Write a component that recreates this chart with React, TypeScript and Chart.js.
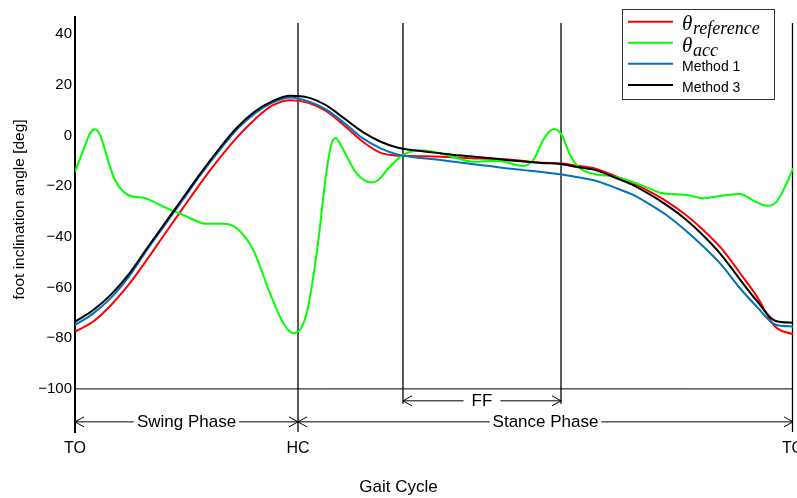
import React, { useEffect, useRef } from "react";
import { Chart, registerables } from "chart.js";

Chart.register(...registerables);

// ---------- data (percent of gait cycle, degrees) ----------
const gaitPct = [
  0, 2.5, 5, 7.5, 10, 12.5, 15, 17.5, 20, 22.5, 25, 27.5, 30, 32.5, 35, 37.5, 40,
  42.5, 45, 47.5, 50, 52.5, 55, 57.5, 60, 62.5, 65, 67.5, 70, 72.5, 75, 77.5, 80,
  82.5, 85, 87.5, 90, 92.5, 95, 97.5, 100,
];

const thetaReference = [
  -77.4, -73.5, -67.0, -58.8, -49.1, -38.9, -28.8, -18.8, -9.5, -1.0, 6.2, 11.8,
  13.9, 12.9, 9.6, 3.9, -2.3, -6.8, -8.0, -8.2, -8.3, -8.6, -9.0, -9.2, -9.4,
  -10.1, -10.8, -11.0, -12.0, -13.1, -15.8, -18.6, -22.1, -26.2, -31.2, -37.3,
  -44.5, -53.8, -63.7, -75.4, -78.5,
];

const method1 = [
  -74.8, -70.3, -64.1, -55.7, -45.3, -35.4, -25.5, -15.5, -6.3, 2.2, 8.6, 12.9,
  14.9, 13.4, 10.2, 4.9, -1.0, -5.0, -7.6, -8.7, -9.4, -10.3, -11.2, -12.0, -13.0,
  -13.7, -14.4, -15.3, -16.5, -17.9, -20.4, -23.2, -27.1, -31.7, -37.4, -43.8,
  -51.0, -59.9, -67.7, -74.6, -75.4,
];

const method3 = [
  -73.5, -69.0, -62.8, -54.7, -44.6, -34.7, -24.8, -14.9, -5.6, 2.9, 9.3, 13.5,
  15.6, 14.9, 11.8, 6.7, 1.5, -2.4, -4.9, -6.0, -6.8, -7.6, -8.2, -8.9, -9.7,
  -10.3, -10.9, -11.3, -12.5, -13.7, -16.4, -19.3, -23.2, -27.7, -33.0, -39.5,
  -47.1, -56.4, -65.4, -73.1, -73.9,
];

const accPct = [
  0, 1.16, 2.09, 2.79, 3.48, 4.18, 4.87, 5.57, 6.73, 8.12, 9.52, 10.91, 12.77,
  15.08, 18.34, 20.65, 22.52, 24.83, 27.16, 29.01, 30.4, 31.1, 32.27, 33.66, 35.06,
  35.75, 36.35, 37.14, 39.23, 41.32, 42.24, 43.87, 45.72, 48.05, 49.9, 52.23,
  55.47, 58.73, 60.58, 62.44, 63.83, 65.22, 66.62, 67.79, 68.94, 70.33, 72.19,
  74.51, 76.84, 79.62, 81.48, 85.2, 87.5, 89.83, 92.62, 94.47, 96.34, 97.73,
  99.12, 100,
];

const thetaAcc = [
  -14.3, -5.8, 0.8, 2.4, 0.2, -5.8, -12.3, -17.6, -22.2, -24.2, -24.6, -26.1,
  -28.7, -31.4, -34.9, -34.9, -36.6, -45.2, -62.3, -74.1, -78.0, -77.4, -70.2,
  -46.5, -13.6, -3.1, -1.0, -4.5, -15.0, -18.6, -17.6, -12.3, -7.7, -6.0, -6.4,
  -8.1, -10.4, -10.0, -11.0, -12.1, -9.7, -1.8, 2.5, 0.2, -7.7, -13.0, -15.2,
  -16.0, -17.6, -20.5, -22.6, -23.5, -24.8, -23.9, -23.1, -25.7, -27.8, -26.1,
  -18.9, -13.0,
];

const yTicks = [40, 20, 0, -20, -40, -60, -80, -100];

// gait events (percent of gait cycle)
const HC_PCT = 31.06;
const FF_START = 45.68;
const FF_END = 67.69;

const xTickPct = [0, HC_PCT, 100];
const xTickLabels = ["TO", "HC", "TO"];

const SANS = "'Liberation Sans', Arial, sans-serif";
const SERIF = "'Liberation Serif', 'Times New Roman', serif";

const COLORS = {
  reference: "#ff0000",
  acc: "#00ff00",
  m1: "#0072bd",
  m3: "#000000",
};

function seg(ctx: CanvasRenderingContext2D, x1: number, y1: number, x2: number, y2: number) {
  ctx.beginPath();
  ctx.moveTo(x1, y1);
  ctx.lineTo(x2, y2);
  ctx.stroke();
}

function arrowHead(ctx: CanvasRenderingContext2D, x: number, y: number, dir: number) {
  ctx.beginPath();
  ctx.moveTo(x - dir * 9, y - 5);
  ctx.lineTo(x, y);
  ctx.lineTo(x - dir * 9, y + 5);
  ctx.stroke();
}

function labeledArrow(
  ctx: CanvasRenderingContext2D,
  x1: number,
  x2: number,
  y: number,
  text: string,
  gap: number
) {
  ctx.font = `17px ${SANS}`;
  const w = ctx.measureText(text).width;
  const mid = (x1 + x2) / 2;
  ctx.lineWidth = 1;
  ctx.strokeStyle = "#000";
  seg(ctx, x1, y, mid - w / 2 - gap, y);
  seg(ctx, mid + w / 2 + gap, y, x2, y);
  arrowHead(ctx, x1, y, -1);
  arrowHead(ctx, x2, y, 1);
  ctx.fillStyle = "#000";
  ctx.textAlign = "center";
  ctx.textBaseline = "middle";
  ctx.fillText(text, mid, y);
}

const annotations = {
  id: "gaitAnnotations",
  beforeDatasetsDraw(chart: any) {
    const { ctx, chartArea, scales } = chart;
    const x = scales.x;
    const y = scales.y;
    ctx.save();
    ctx.strokeStyle = "#000";
    ctx.lineWidth = 1;
    const y100 = y.getPixelForValue(-100);
    seg(ctx, chartArea.left, y100, x.getPixelForValue(100), y100);
    const top = y.getPixelForValue(44.3);
    ctx.lineWidth = 1.3;
    const xHC = x.getPixelForValue(HC_PCT);
    const xEnd = x.getPixelForValue(100) - 0.5;
    seg(ctx, xHC, top, xHC, chartArea.bottom);
    seg(ctx, xEnd, top, xEnd, chartArea.bottom);
    const ffBottom = y.getPixelForValue(-105.9);
    const xF1 = x.getPixelForValue(FF_START);
    const xF2 = x.getPixelForValue(FF_END);
    seg(ctx, xF1, top, xF1, ffBottom);
    seg(ctx, xF2, top, xF2, ffBottom);
    ctx.restore();
  },
  afterDraw(chart: any) {
    const { ctx, chartArea, scales } = chart;
    const x = scales.x;
    const y = scales.y;
    ctx.save();
    const yFF = y.getPixelForValue(-104.7);
    const yPh = y.getPixelForValue(-113);
    labeledArrow(ctx, x.getPixelForValue(FF_START), x.getPixelForValue(FF_END), yFF, "FF", 8);
    labeledArrow(ctx, x.getPixelForValue(0), x.getPixelForValue(HC_PCT), yPh, "Swing Phase", 3);
    labeledArrow(ctx, x.getPixelForValue(HC_PCT), x.getPixelForValue(100), yPh, "Stance Phase", 3);

    ctx.fillStyle = "#000";
    ctx.font = `17px ${SANS}`;
    ctx.textAlign = "center";
    ctx.textBaseline = "middle";
    ctx.fillText("Gait Cycle", chart.width / 2, 487);
    ctx.save();
    ctx.translate(20, (y.getPixelForValue(40) + y.getPixelForValue(-100)) / 2 - 2);
    ctx.rotate(-Math.PI / 2);
    ctx.font = `15.5px ${SANS}`;
    ctx.fillText("foot inclination angle [deg]", 0, 0);
    ctx.restore();

    // legend
    const L = chartArea.right - 171;
    const T = chartArea.top - 8;
    const W = 152;
    const H = 90;
    ctx.fillStyle = "#fff";
    ctx.fillRect(L, T, W, H);
    ctx.strokeStyle = "#333";
    ctx.lineWidth = 1;
    ctx.strokeRect(L + 0.5, T + 0.5, W, H);
    const rows = [
      { color: COLORS.reference, y: 12.7 },
      { color: COLORS.acc, y: 33.7 },
      { color: COLORS.m1, y: 54.7 },
      { color: COLORS.m3, y: 76 },
    ];
    ctx.lineWidth = 2;
    rows.forEach((r) => {
      ctx.strokeStyle = r.color;
      seg(ctx, L + 6, T + r.y, L + 51, T + r.y);
    });
    ctx.fillStyle = "#000";
    ctx.textAlign = "left";
    ctx.textBaseline = "alphabetic";
    ctx.font = `italic 21px ${SERIF}`;
    ctx.fillText("θ", L + 60, T + 21);
    ctx.font = `italic 18px ${SERIF}`;
    ctx.fillText("reference", L + 71, T + 24.5);
    ctx.font = `italic 21px ${SERIF}`;
    ctx.fillText("θ", L + 60, T + 42.5);
    ctx.font = `italic 18px ${SERIF}`;
    ctx.fillText("acc", L + 71, T + 46.5);
    ctx.font = `14px ${SANS}`;
    ctx.fillText("Method 1", L + 60, T + 61.7);
    ctx.fillText("Method 3", L + 60, T + 83.3);
    ctx.restore();
  },
};

function toPoints(xs: number[], ys: number[]) {
  return xs.map((v, i) => ({ x: v, y: ys[i] }));
}

export default function App() {
  const canvasRef = useRef<HTMLCanvasElement | null>(null);

  useEffect(() => {
    if (!canvasRef.current) return;
    Chart.defaults.font.family = SANS;
    Chart.defaults.color = "#000";
    const chart = new Chart(canvasRef.current, {
      type: "line",
      data: {
        datasets: [
          {
            label: "θreference",
            data: toPoints(gaitPct, thetaReference),
            borderColor: COLORS.reference,
            borderWidth: 2,
            pointRadius: 0,
            cubicInterpolationMode: "monotone",
            order: 3,
          },
          {
            label: "θacc",
            data: toPoints(accPct, thetaAcc),
            borderColor: COLORS.acc,
            borderWidth: 2,
            pointRadius: 0,
            cubicInterpolationMode: "monotone",
            order: 2,
          },
          {
            label: "Method 1",
            data: toPoints(gaitPct, method1),
            borderColor: COLORS.m1,
            borderWidth: 2,
            pointRadius: 0,
            cubicInterpolationMode: "monotone",
            order: 1,
          },
          {
            label: "Method 3",
            data: toPoints(gaitPct, method3),
            borderColor: COLORS.m3,
            borderWidth: 2,
            pointRadius: 0,
            cubicInterpolationMode: "monotone",
            order: 0,
          },
        ],
      },
      options: {
        responsive: false,
        animation: false,
        events: [],
        layout: { autoPadding: false, padding: { top: 17, right: 4, left: 0, bottom: 0 } },
        plugins: {
          legend: { display: false },
          tooltip: { enabled: false },
          title: { display: false },
        },
        scales: {
          x: {
            type: "linear",
            min: 0,
            max: 100,
            grid: { display: false, drawTicks: false },
            border: { display: false },
            afterBuildTicks: (scale: any) => {
              scale.ticks = xTickPct.map((v) => ({ value: v }));
            },
            afterFit: (scale: any) => {
              scale.height = 66;
              scale.paddingLeft = 0;
              scale.paddingRight = 0;
              scale.paddingTop = 0;
              scale.paddingBottom = 0;
            },
            ticks: {
              autoSkip: false,
              maxRotation: 0,
              minRotation: 0,
              padding: 7,
              color: "#000",
              font: { size: 16, family: SANS },
              callback: (_v: any, i: number) => xTickLabels[i],
            },
          },
          y: {
            type: "linear",
            min: -117,
            max: 46.7,
            grid: { display: false, drawTicks: false },
            border: { display: true, color: "#000", width: 2 },
            afterBuildTicks: (scale: any) => {
              scale.ticks = yTicks.map((v) => ({ value: v }));
            },
            afterFit: (scale: any) => {
              scale.width = 75;
              scale.paddingLeft = 0;
              scale.paddingRight = 0;
              scale.paddingTop = 0;
              scale.paddingBottom = 0;
            },
            ticks: {
              padding: 3,
              color: "#000",
              font: { size: 15, family: SANS },
              callback: (v: any) => String(v).replace("-", "\u2212"),
            },
          },
        },
      },
      plugins: [annotations],
    } as any);
    return () => chart.destroy();
  }, []);

  return (
    <div style={{ position: "absolute", left: 0, top: 0, width: 797, height: 498, background: "#fff" }}>
      <canvas ref={canvasRef} width={797} height={498} style={{ display: "block" }} />
    </div>
  );
}
